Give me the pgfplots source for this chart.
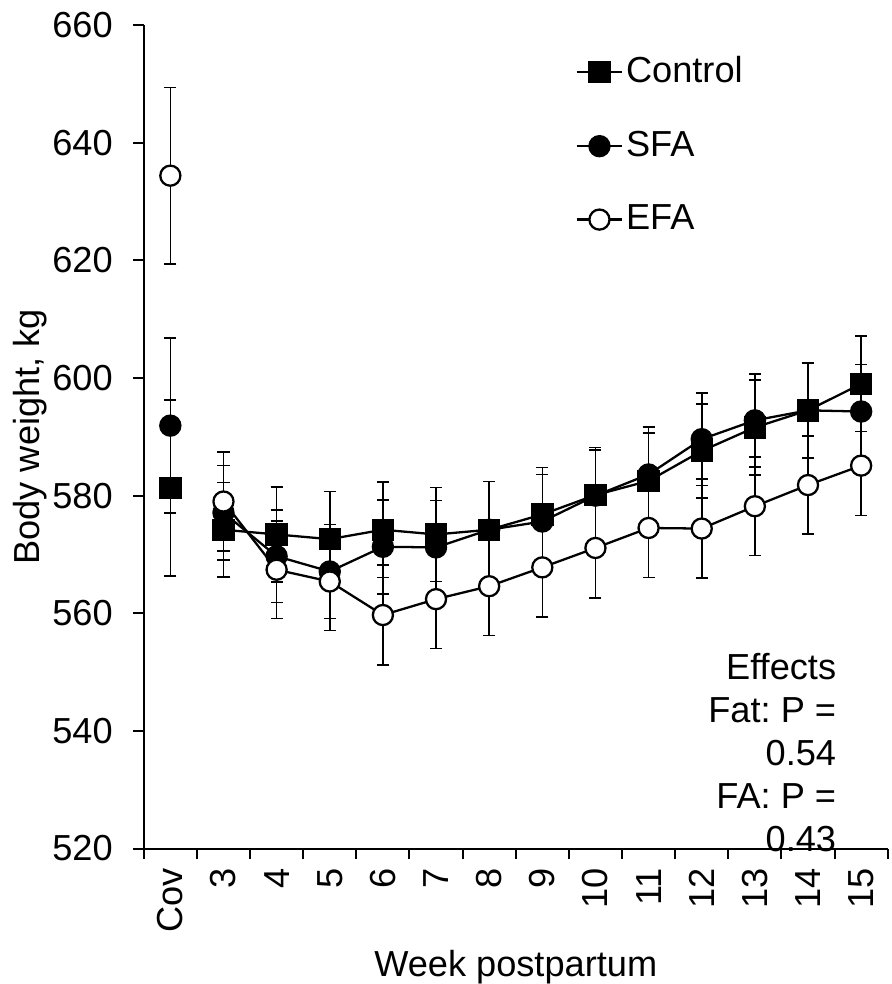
\documentclass[border=0pt]{standalone}
\usepackage{fontspec}
\setmainfont{Liberation Sans}
\usepackage{pgfplots}
\pgfplotsset{compat=1.18}
\usepackage{pgfplotstable}
\frenchspacing

\pgfplotstableread{
x y e
0 581.3 15.0
}\ctrlcov
\pgfplotstableread{
x y e
1 574.2 8.0
2 573.4 8.1
3 572.6 8.1
4 574.2 8.1
5 573.4 8.0
6 574.2 8.2
7 576.8 8.0
8 580.1 8.1
9 582.5 8.1
10 587.6 8.0
11 591.6 8.1
12 594.5 8.1
13 599.0 8.1
}\ctrl
\pgfplotstableread{
x y e
0 591.9 14.9
}\sfacov
\pgfplotstableread{
x y e
1 577.1 8.0
2 569.7 7.9
3 567.1 8.0
4 571.3 8.0
5 571.2 8.0
6 574.2 8.2
7 575.6 8.0
8 580.0 7.8
9 583.6 8.1
10 589.6 7.9
11 592.8 7.9
12 594.5 8.1
13 594.3 8.0
}\sfa
\pgfplotstableread{
x y e
0 634.4 15.0
}\efacov
\pgfplotstableread{
x y e
1 579.0 8.4
2 567.4 8.3
3 565.4 8.3
4 559.7 8.5
5 562.4 8.4
6 564.6 8.4
7 567.8 8.4
8 571.1 8.5
9 574.5 8.4
10 574.4 8.4
11 578.2 8.4
12 581.8 8.3
13 585.1 8.5
}\efa

\begin{document}
\frenchspacing
\fontsize{27}{32}\selectfont
\begin{tikzpicture}
\begin{axis}[
  scale only axis,
  width=555pt, height=614.25pt,
  clip=false,
  xmin=-0.5, xmax=13.5,
  ymin=520, ymax=660,
  ytick={520,540,...,660},
  xtick={0,...,13},
  xticklabels={Cov,3,4,5,6,7,8,9,10,11,12,13,14,15},
  minor xtick={-0.5,0.5,...,13.5},
  major x tick style={draw=none},
  tick align=outside,
  major tick length=8pt,
  minor tick length=8pt,
  tick style={line width=1.5pt, black},
  axis x line*=bottom,
  axis y line*=left,
  axis line style={line width=1.5pt, -},
  /pgf/number format/assume math mode=true,
  tick label style={font=\fontsize{27}{32}\selectfont},
  xticklabel style={rotate=90, anchor=east, inner sep=2pt},
  yticklabel style={inner sep=3pt},
  xticklabel shift=4.5pt,
  yticklabel shift=12pt,
  xtick pos=bottom, ytick pos=left,
  xlabel={Week postpartum},
  ylabel={Body weight, kg},
  label style={font=\fontsize{27}{32}\selectfont},
  ylabel style={inner sep=0pt},
  ylabel shift=1pt,
  xlabel style={inner sep=0pt, yshift=-11pt},
  every axis plot/.append style={line width=1.7pt, black},
  error bars/y dir=both,
  error bars/y explicit,
  error bars/error bar style={line width=1.2pt, black},
  error bars/error mark options={rotate=90, mark size=4.5pt, line width=1.2pt, black},
  legend style={draw=none, fill=none, at={(rel axis cs:0.58,0.969)}, anchor=north west,
    font=\fontsize{27}{32}\selectfont, row sep=28pt, inner xsep=0pt,
    /tikz/every even column/.append style={column sep=0pt}},
  legend cell align=left,
  legend image code/.code={\draw[mark repeat=2,mark phase=2] plot coordinates {(0pt,0pt)(17pt,0pt)(34pt,0pt)};},
]
\addplot[mark=square*, mark size=7.5pt, mark options={fill=black, solid}] table[x=x,y=y,y error=e] {\ctrl};
\addlegendentry{Control}
\addplot[mark=*, mark size=7.5pt, mark options={fill=black, solid}] table[x=x,y=y,y error=e] {\sfa};
\addlegendentry{SFA}
\addplot[mark=*, mark size=7.5pt, mark options={fill=white, solid}] table[x=x,y=y,y error=e] {\efa};
\addlegendentry{EFA}
\addplot[forget plot, mark=square*, mark size=7.5pt, mark options={fill=black, solid}] table[x=x,y=y,y error=e] {\ctrlcov};
\addplot[forget plot, mark=*, mark size=7.5pt, mark options={fill=black, solid}] table[x=x,y=y,y error=e] {\sfacov};
\addplot[forget plot, mark=*, mark size=7.5pt, mark options={fill=white, solid}] table[x=x,y=y,y error=e] {\efacov};
\node[anchor=north east, align=right, inner sep=0pt, font=\fontsize{27}{32}\selectfont] at (rel axis cs:0.931,0.237) {Effects\\Fat: P =\\0.54\\FA: P =\\0.43};
\path (rel axis cs:0,1) ++(-107.25pt,18.75pt);
\path (rel axis cs:1,1) ++(3pt,0pt);
\end{axis}
\end{tikzpicture}
\end{document}
